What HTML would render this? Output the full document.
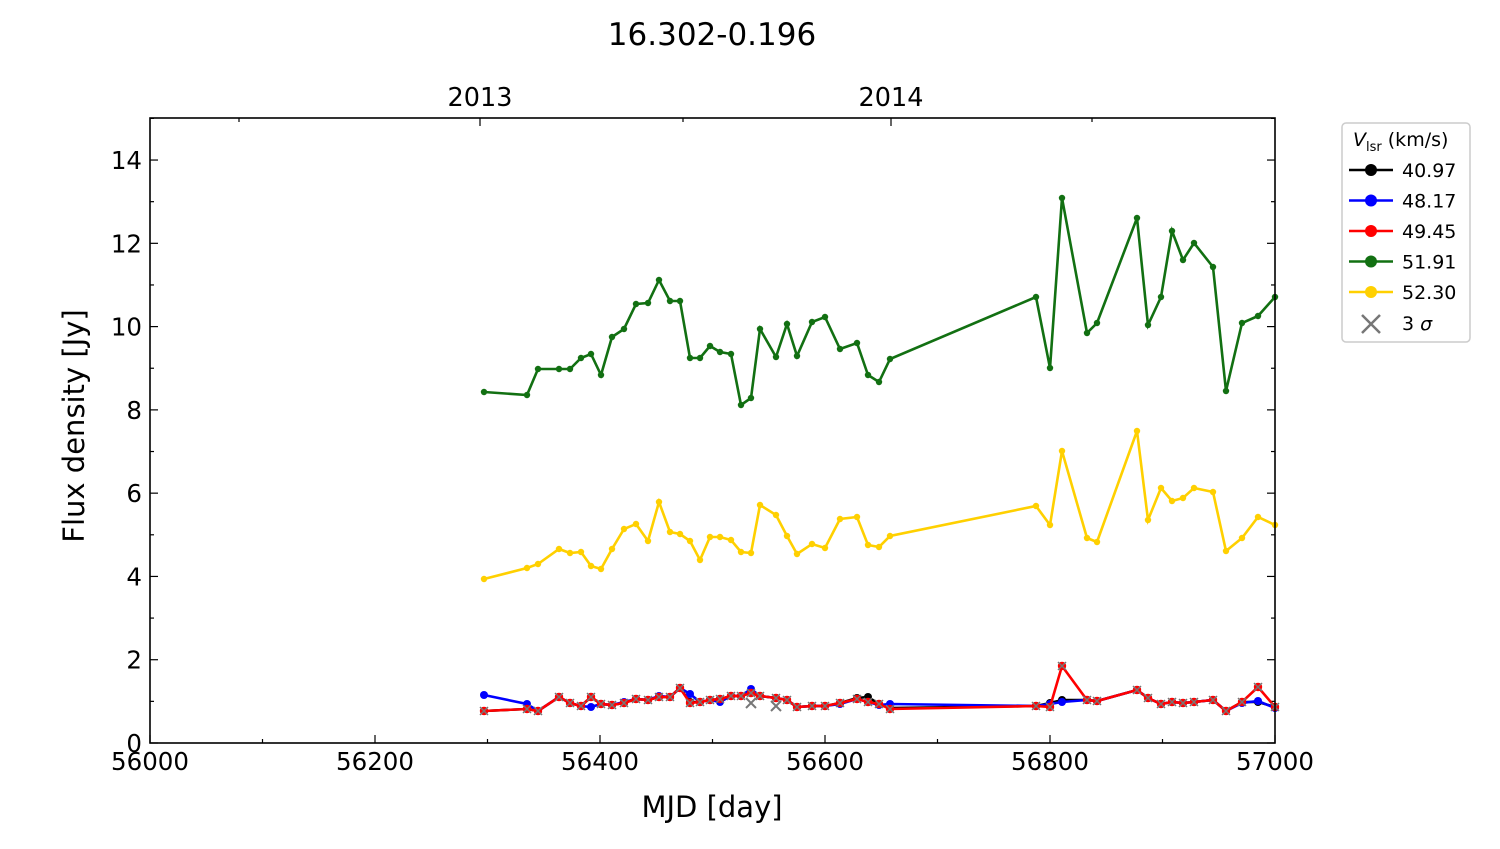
<!DOCTYPE html>
<html><head><meta charset="utf-8"><style>
body{margin:0;background:#fff}
text{font-family:"DejaVu Sans","Liberation Sans",sans-serif;fill:#000}
</style></head><body>
<svg id="s" width="1500" height="844" xmlns="http://www.w3.org/2000/svg">
<text x="712" y="45" font-size="31" text-anchor="middle">16.302-0.196</text>
<text x="480" y="106" font-size="25.5" text-anchor="middle">2013</text>
<text x="891" y="106" font-size="25.5" text-anchor="middle">2014</text>
<text x="712" y="817" font-size="29" text-anchor="middle">MJD [day]</text>
<text transform="translate(84,426) rotate(-90)" font-size="29" text-anchor="middle">Flux density [Jy]</text>
<g id="ax"></g>
<g id="data"></g>
<rect x="150" y="118" width="1125" height="625" fill="none" stroke="#000" stroke-width="1.6"/>
<g>
<rect x="1342" y="123" width="128" height="219" rx="4" fill="#fff" stroke="#ccc" stroke-width="1.5"/>
<text x="1353" y="146" font-size="19"><tspan font-style="italic">V</tspan><tspan font-size="13" dy="5">lsr</tspan><tspan dy="-5"> (km/s)</tspan></text>
</g>
</svg>
<script>
var NS="http://www.w3.org/2000/svg",S=document.getElementById("s");
function el(t,a,p){var e=document.createElementNS(NS,t);for(var k in a)e.setAttribute(k,a[k]);(p||S).appendChild(e);return e}
var ax=document.getElementById("ax");
for(var m=56000;m<=57000;m+=100){var x=150+(m-56000)*1.125,L=(m%200==0)?8:4;
el("line",{x1:x,x2:x,y1:743,y2:743-L,stroke:"#000","stroke-width":1.2},ax);
if(m%200==0){var t=el("text",{x:x,y:770,"font-size":24.5,"text-anchor":"middle"},ax);t.textContent=m;}}
for(var y=0;y<=15;y++){var py=743-y*41.64,L=(y%2==0)?8:4;
el("line",{x1:150,x2:150+L,y1:py,y2:py,stroke:"#000","stroke-width":1.2},ax);
el("line",{x1:1275,x2:1275-L,y1:py,y2:py,stroke:"#000","stroke-width":1.2},ax);
if(y%2==0&&y<=14){var t=el("text",{x:142,y:py+9,"font-size":24.5,"text-anchor":"end"},ax);t.textContent=y;}}
[[239,4],[480,8],[683,4],[891,8],[1092,4]].forEach(function(a){el("line",{x1:a[0],x2:a[0],y1:118,y2:118+a[1],stroke:"#000","stroke-width":1.2},ax)});
var X=[484,527,538,559,570,581,591,601,612,624,636,648,659,670,680,690,700,710,720,731,741,751,760,776,787,797,812,825,840,857,868,879,890,1036,1050,1062,1087,1097,1137,1148,1161,1172,1183,1194,1213,1226,1242,1258,1275];
var G=[392,395,369,369,369,358,354,375,337,329,304,303,280,301,301,358,358,346,352,354,405,398,329,357,324,356,322,317,349,343,375,382,359,297,368,198,333,323,218,325,297,231,260,243,267,391,323,316,297];
var Yl=[579,568,564,549,553,552,566,569,549,529,524,541,502,532,534,541,560,537,537,540,552,553,505,515,536,554,544,548,519,517,545,547,536,506,525,451,538,542,431,520,488,501,498,488,492,551,538,517,525];
var R=[711,709,711,697,703,706,697,704,705,703,699,700,697,697,688,703,702,700,699,696,696,693,696,698,700,707,706,706,703,699,702,704,709,706,707,666,700,701,690,698,704,702,703,702,700,711,702,687,707];
var B=R.slice();B[0]=695;B[1]=704;B[6]=707;B[9]=702;B[11]=700;B[12]=696;B[15]=694;B[18]=702;B[21]=689;B[28]=704;B[31]=705;B[32]=704;B[34]=704;B[35]=702;B[46]=703;B[47]=701;B[48]=708;
var K=R.slice();K[15]=702;K[35]=700;K[29]=698;K[30]=697;K[32]=708;K[34]=703;K[47]=702;
var d=document.getElementById("data");
function series(Y,c,r){var pts=X.map(function(x,i){return x+","+Y[i]}).join(" ");
el("polyline",{points:pts,fill:"none",stroke:c,"stroke-width":2.6},d);
X.forEach(function(x,i){el("circle",{cx:x,cy:Y[i],r:r,fill:c},d)});}
series(K,"#000",4);series(B,"#0000ff",4);series(R,"#ff0000",4.2);
X.forEach(function(x,i){var y=R[i];el("path",{d:"M"+(x-4)+" "+(y-4)+"L"+(x+4)+" "+(y+4)+"M"+(x-4)+" "+(y+4)+"L"+(x+4)+" "+(y-4),stroke:"#777","stroke-width":1.5},d)});
[[751,703],[776,706]].forEach(function(p){var x=p[0],y=p[1];el("path",{d:"M"+(x-5)+" "+(y-5)+"L"+(x+5)+" "+(y+5)+"M"+(x-5)+" "+(y+5)+"L"+(x+5)+" "+(y-5),stroke:"#777","stroke-width":2},d)});
series(G,"#127012",3.2);series(Yl,"#ffd000",3.2);
var lg=[["#000","40.97"],["#0000ff","48.17"],["#ff0000","49.45"],["#127012","51.91"],["#ffd000","52.30"]];
lg.forEach(function(a,i){var y=170+i*30.5;el("line",{x1:1349,x2:1393,y1:y,y2:y,stroke:a[0],"stroke-width":2.6});el("circle",{cx:1371,cy:y,r:6,fill:a[0]});
var t=el("text",{x:1402,y:y+7,"font-size":19});t.textContent=a[1];});
el("path",{d:"M1362 315L1380 333M1362 333L1380 315",stroke:"#777","stroke-width":2.5});
var t=el("text",{x:1402,y:330,"font-size":19});t.innerHTML='3 <tspan font-style="italic">σ</tspan>';
</script>
</body></html>
